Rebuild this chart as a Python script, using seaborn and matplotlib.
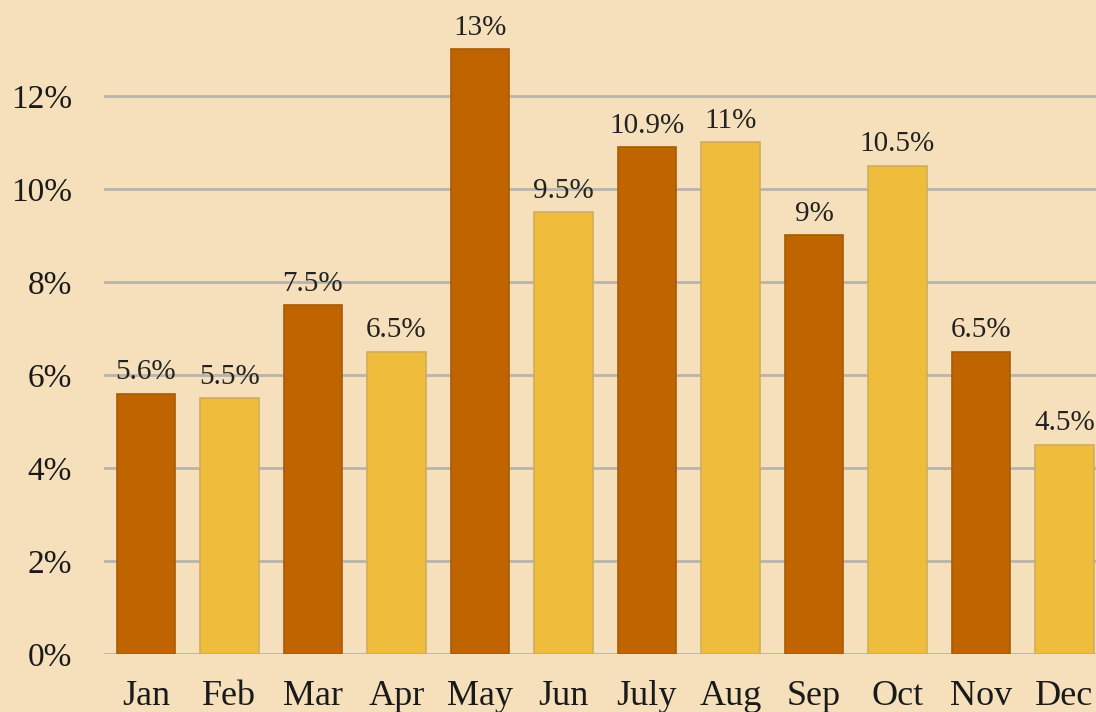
import matplotlib
matplotlib.use("Agg")
import matplotlib.pyplot as plt
import seaborn as sns

# Monthly share values (%)
months = ["Jan", "Feb", "Mar", "Apr", "May", "Jun", "July", "Aug", "Sep", "Oct", "Nov", "Dec"]
values = [5.6, 5.5, 7.5, 6.5, 13, 9.5, 10.9, 11, 9, 10.5, 6.5, 4.5]
y_ticks = [0, 2, 4, 6, 8, 10, 12]

dark = "#C06400"
light = "#F0BC3C"
bar_colors = [dark if i % 2 == 0 else light for i in range(len(months))]
edge_colors = ["#A85A08" if i % 2 == 0 else "#CFAE5A" for i in range(len(months))]
bg = "#F5E0BB"

sns.set_theme(style="white")
plt.rcParams["font.family"] = ["Liberation Serif", "DejaVu Serif"]

fig = plt.figure(figsize=(10.96, 7.12), dpi=100)
fig.patch.set_facecolor(bg)
ax = fig.add_axes([104 / 1096, 58 / 712, 992 / 1096, 654 / 712])
ax.set_facecolor(bg)

sns.barplot(x=months, y=values, hue=months, palette=bar_colors, legend=False,
            width=0.7, saturation=1, ax=ax, zorder=3)
for patch, ec in zip(ax.patches, edge_colors):
    patch.set_edgecolor(ec)
    patch.set_linewidth(1.2)

for container in ax.containers:
    ax.bar_label(container, labels=[f"{v:g}%" for v in container.datavalues],
                 padding=6, fontsize=21, color="#222222")

ax.set_xlim(-0.5, 11.377)
ax.set_ylim(0, 14.06)
ax.set_yticks(y_ticks)
ax.set_yticklabels([f"{t}%" for t in y_ticks])
ax.yaxis.grid(True, color="#B8B4AC", linewidth=2)
ax.set_axisbelow(True)
ax.tick_params(axis="y", length=0, pad=23, labelsize=24, labelcolor="#1a1a1a")
ax.tick_params(axis="x", length=0, pad=19, labelsize=26, labelcolor="#1a1a1a")
ax.set_xlabel("")
ax.set_ylabel("")
sns.despine(ax=ax, left=True, bottom=True, top=True, right=True)

fig.savefig("out.png", dpi=100, facecolor=bg)
